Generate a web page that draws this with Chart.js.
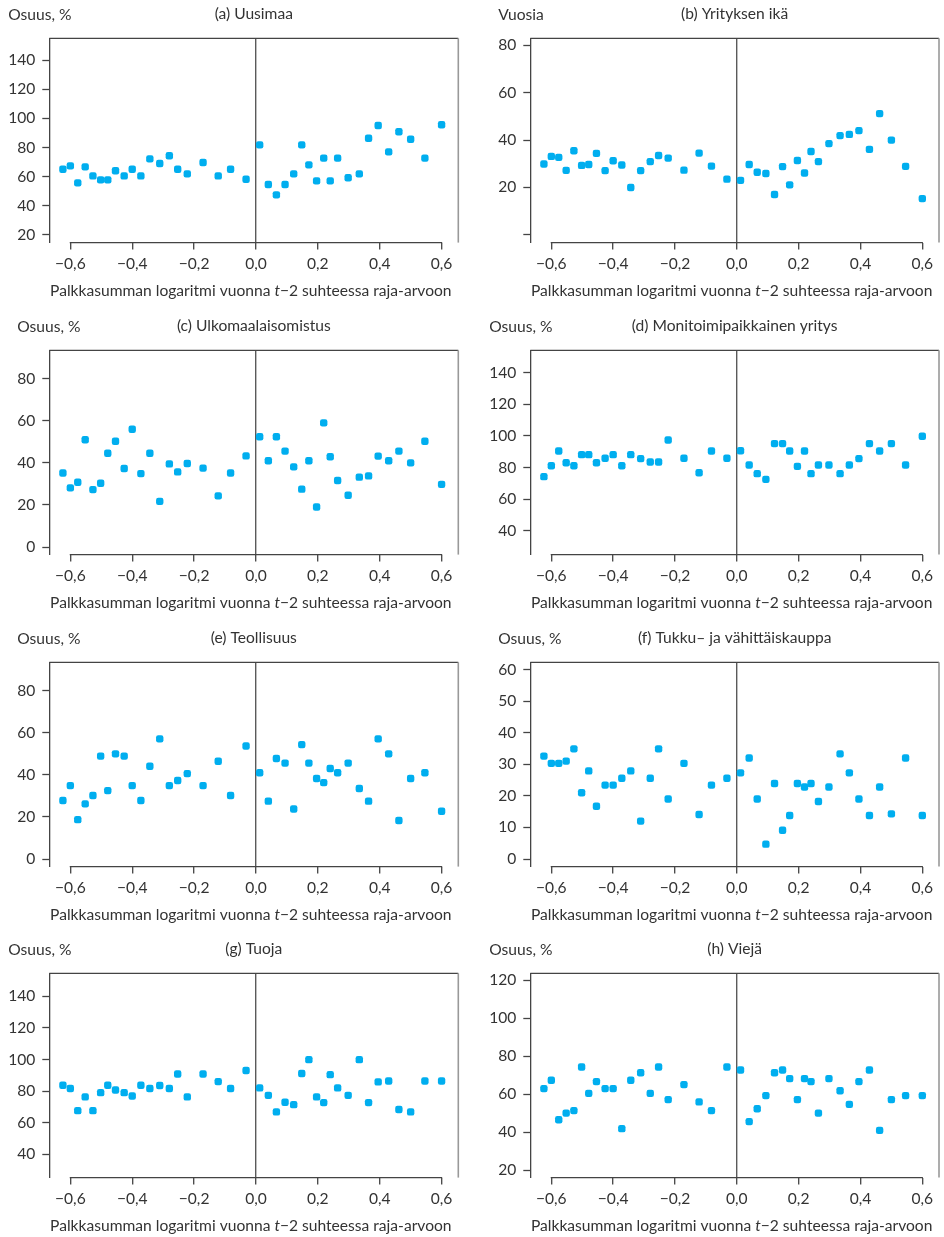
<!DOCTYPE html>
<html>
<head>
<meta charset="utf-8">
<script src="https://cdn.jsdelivr.net/npm/chart.js@4.4.1/dist/chart.umd.min.js"></script>
<style>
  body { margin: 0; background: #fff; }
  #wrap { position: relative; width: 944px; height: 1237px; }
  canvas { position: absolute; }
</style>
</head>
<body>
<div id="wrap"></div>
<script>
// bin midpoints on the running variable (same for every panel)
const xBins = [-0.624, -0.600, -0.576, -0.552, -0.527, -0.502, -0.479, -0.454, -0.426, -0.400,
               -0.372, -0.343, -0.311, -0.280, -0.253, -0.222, -0.171, -0.122, -0.082, -0.032,
                0.012,  0.040,  0.066,  0.094,  0.122,  0.148,  0.171,  0.196,  0.219,  0.240,
                0.264,  0.298,  0.334,  0.364,  0.395,  0.429,  0.462,  0.500,  0.546,  0.600];

const uusimaa = [65.1, 67.4, 55.7, 66.7, 60.5, 57.8, 57.8, 64.0, 60.5, 65.1,
                 60.5, 72.2, 69.0, 74.3, 65.1, 61.9, 69.7, 60.5, 65.1, 58.2,
                 81.8, 54.6, 47.5, 54.6, 61.9, 81.8, 68.1, 57.1, 72.7, 57.1,
                 72.7, 59.2, 61.9, 86.4, 95.1, 77.0, 90.8, 85.7, 72.7, 95.6];
const yrityksenIka = [29.9, 33.1, 32.7, 27.2, 35.5, 29.3, 29.7, 34.4, 27.1, 31.3,
                      29.5, 20.0, 27.1, 30.9, 33.5, 32.4, 27.3, 34.5, 29.0, 23.5,
                      23.0, 29.7, 26.4, 25.9, 17.0, 28.8, 21.1, 31.4, 26.1, 35.2,
                      30.9, 38.5, 41.9, 42.4, 44.0, 36.1, 51.2, 40.0, 28.9, 15.3];
const ulkomaalaisomistus = [35.2, 28.1, 30.8, 51.0, 27.3, 30.3, 44.6, 50.3, 37.3, 56.0,
                            34.9, 44.6, 21.7, 39.5, 35.7, 39.7, 37.5, 24.3, 35.2, 43.3,
                            52.4, 41.0, 52.4, 45.6, 38.1, 27.5, 41.0, 19.0, 59.0, 42.9,
                            31.6, 24.6, 33.2, 33.8, 43.2, 41.0, 45.6, 40.0, 50.3, 29.8];
const monitoimipaikkainen = [74.2, 81.1, 90.4, 83.0, 81.1, 88.1, 88.1, 83.0, 85.8, 88.1,
                             81.1, 88.1, 85.6, 83.5, 83.5, 97.4, 85.8, 76.7, 90.4, 85.8,
                             90.6, 81.6, 76.1, 72.5, 95.1, 95.1, 90.4, 80.7, 90.4, 76.1,
                             81.6, 81.6, 76.1, 81.6, 85.6, 95.1, 90.4, 95.1, 81.6, 99.7];
const teollisuus = [27.8, 34.9, 18.7, 26.2, 30.2, 48.9, 32.5, 50.0, 48.9, 34.9,
                    27.8, 44.1, 57.1, 34.9, 37.3, 40.6, 34.9, 46.5, 30.2, 53.7,
                    41.0, 27.5, 47.8, 45.6, 23.8, 54.4, 45.6, 38.3, 36.3, 43.0,
                    41.0, 45.6, 33.5, 27.5, 57.1, 50.0, 18.3, 38.3, 41.0, 22.7];
const kauppa = [32.6, 30.3, 30.3, 31.0, 34.9, 21.0, 27.9, 16.7, 23.4, 23.4,
                25.6, 27.9, 12.0, 25.6, 34.9, 19.0, 30.3, 14.1, 23.4, 25.6,
                27.3, 32.0, 19.0, 4.7, 23.9, 9.1, 13.8, 23.9, 22.8, 23.9,
                18.2, 22.8, 33.3, 27.3, 19.0, 13.8, 22.8, 14.3, 32.0, 13.8];
const tuoja = [83.7, 81.6, 67.6, 76.3, 67.6, 79.0, 83.7, 80.7, 79.0, 76.9,
               83.7, 81.6, 83.5, 81.6, 90.8, 76.3, 90.8, 86.0, 81.6, 93.0,
               82.0, 77.3, 66.8, 72.9, 71.4, 91.1, 99.9, 76.3, 72.7, 90.4,
               82.0, 77.3, 99.9, 72.7, 85.8, 86.4, 68.3, 66.8, 86.4, 86.4];
const vieja = [62.9, 67.3, 46.5, 50.0, 51.3, 74.3, 60.4, 66.6, 62.9, 62.9,
               41.8, 67.3, 71.3, 60.4, 74.3, 57.1, 65.0, 55.9, 51.3, 74.3,
               72.7, 45.5, 52.3, 59.2, 71.3, 72.7, 68.2, 57.1, 68.2, 66.6,
               50.0, 68.2, 61.8, 54.6, 66.6, 72.7, 40.9, 57.1, 59.2, 59.2];

const xTicks = [-0.6, -0.4, -0.2, 0, 0.2, 0.4, 0.6];
const xTickLabels = ['\u22120,6', '\u22120,4', '\u22120,2', '0,0', '0,2', '0,4', '0,6'];
const ticksA = [20, 40, 60, 80, 100, 120, 140];
const ticksB = [0, 20, 40, 60, 80];
const ticksC = [0, 20, 40, 60, 80];
const ticksD = [40, 60, 80, 100, 120, 140];
const ticksE = [0, 20, 40, 60, 80];
const ticksF = [0, 10, 20, 30, 40, 50, 60];
const ticksG = [40, 60, 80, 100, 120, 140];
const ticksH = [20, 40, 60, 80, 100, 120];

const panels = [
  { title: '(a) Uusimaa', yTitle: 'Osuus, %', values: uusimaa, ticks: ticksA, hide: [], min: 14.7, max: 155 },
  { title: '(b) Yrityksen ikä', yTitle: 'Vuosia', values: yrityksenIka, ticks: ticksB, hide: [0], min: -3.3, max: 83 },
  { title: '(c) Ulkomaalaisomistus', yTitle: 'Osuus, %', values: ulkomaalaisomistus, ticks: ticksC, hide: [], min: -3.6, max: 93.5 },
  { title: '(d) Monitoimipaikkainen yritys', yTitle: 'Osuus, %', values: monitoimipaikkainen, ticks: ticksD, hide: [], min: 25, max: 154 },
  { title: '(e) Teollisuus', yTitle: 'Osuus, %', values: teollisuus, ticks: ticksE, hide: [], min: -3.6, max: 93.5 },
  { title: '(f) Tukku\u2013 ja vähittäiskauppa', yTitle: 'Osuus, %', values: kauppa, ticks: ticksF, hide: [], min: -2.4, max: 62.3 },
  { title: '(g) Tuoja', yTitle: 'Osuus, %', values: tuoja, ticks: ticksG, hide: [], min: 25.2, max: 154.6 },
  { title: '(h) Viejä', yTitle: 'Osuus, %', values: vieja, ticks: ticksH, hide: [], min: 16, max: 123.7 }
];

// layout
const CW = 472, CH = 302;
const rowTops = [0, 312, 624, 935];
const cols = [
  { left: 0, chartLeft: 49.3, chartRight: 458.3 },
  { left: 472, chartLeft: 58.3, chartRight: 467 }
];
const CHART_TOP = 38.3, CHART_BOTTOM = 242.6;
const FONT = 'Lato, "Noto Sans", sans-serif';
const FS = 15.6;
const TXT = '#333';
const DOT = '#00aeef';

const frame = {
  id: 'frame',
  beforeDatasetsDraw(chart) {
    const { ctx, chartArea: a, scales: { x } } = chart;
    ctx.save();
    ctx.strokeStyle = '#444';
    ctx.lineWidth = 1.3;
    ctx.beginPath();
    ctx.moveTo(a.left, a.top);
    ctx.lineTo(a.right, a.top);
    ctx.moveTo(x.getPixelForValue(xTicks[0]) - 0.6, a.bottom);
    ctx.lineTo(x.getPixelForValue(xTicks[xTicks.length - 1]) + 0.6, a.bottom);
    ctx.stroke();
    ctx.strokeStyle = '#999';
    ctx.lineWidth = 1.6;
    ctx.beginPath();
    ctx.moveTo(a.right, a.top);
    ctx.lineTo(a.right, a.bottom);
    ctx.stroke();
    ctx.restore();
  },
  afterDraw(chart, args, opts) {
    const { ctx, chartArea: a, scales: { y } } = chart;
    ctx.save();
    ctx.fillStyle = TXT;
    ctx.textBaseline = 'middle';
    ctx.font = FS + 'px ' + FONT;
    // y title starts where the widest tick label starts
    const w = Math.max(...y.ticks.map(t => ctx.measureText(t.label).width));
    ctx.textAlign = 'left';
    ctx.fillText(opts.yTitle, a.left - 14 - w, 15);
    ctx.textAlign = 'center';
    ctx.fillText(opts.title, (a.left + a.right) / 2, 14);

    // x title with italic t
    const parts = [['Palkkasumman logaritmi vuonna ', ''], ['t', 'italic '], ['\u22122 suhteessa raja-arvoon', '']];
    let total = 0;
    parts.forEach(p => { ctx.font = p[1] + FS + 'px ' + FONT; p.push(ctx.measureText(p[0]).width); total += p[2]; });
    let sx = (a.left + a.right) / 2 - 3 - total / 2;
    ctx.textAlign = 'left';
    parts.forEach(p => { ctx.font = p[1] + FS + 'px ' + FONT; ctx.fillText(p[0], sx, 291); sx += p[2]; });
    ctx.restore();
  }
};

panels.forEach((p, i) => {
  const col = cols[i % 2];
  const canvas = document.createElement('canvas');
  canvas.width = CW;
  canvas.height = CH;
  canvas.style.left = col.left + 'px';
  canvas.style.top = rowTops[Math.floor(i / 2)] + 'px';
  document.getElementById('wrap').appendChild(canvas);

  new Chart(canvas, {
    type: 'scatter',
    data: {
      datasets: [{
        data: xBins.map((x, k) => ({ x: x, y: p.values[k] })),
        pointStyle: 'rectRounded',
        pointRadius: 4.3,
        pointHoverRadius: 4.3,
        backgroundColor: DOT,
        borderWidth: 0
      }]
    },
    options: {
      responsive: false,
      animation: false,
      devicePixelRatio: 1,
      layout: { padding: { left: 0, right: CW - col.chartRight, top: CHART_TOP, bottom: 0 } },
      plugins: {
        legend: { display: false },
        tooltip: { enabled: false },
        frame: { title: p.title, yTitle: p.yTitle }
      },
      scales: {
        x: {
          type: 'linear',
          min: -0.668,
          max: 0.654,
          afterBuildTicks: s => { s.ticks = xTicks.map(v => ({ value: v })); },
          afterFit: s => { s.height = CH - CHART_BOTTOM; },
          ticks: {
            callback: (v, k) => xTickLabels[k],
            font: { family: FONT, size: FS },
            color: TXT,
            padding: 5,
            maxRotation: 0,
            autoSkip: false
          },
          grid: {
            color: c => (c.tick && c.tick.value === 0) ? '#5a5a5a' : 'rgba(0,0,0,0)',
            lineWidth: 1.4,
            tickColor: '#444',
            tickLength: 7,
            tickWidth: 1.3
          },
          border: { display: false }
        },
        y: {
          min: p.min,
          max: p.max,
          afterBuildTicks: s => { s.ticks = p.ticks.map(v => ({ value: v })); },
          afterFit: s => { s.width = col.chartLeft; },
          ticks: {
            callback: v => p.hide.includes(v) ? '' : String(v),
            font: { family: FONT, size: FS },
            color: TXT,
            padding: 7,
            autoSkip: false
          },
          grid: { drawOnChartArea: false, tickLength: 7, tickColor: '#444', tickWidth: 1.3 },
          border: { display: true, color: '#444', width: 1.3 }
        }
      }
    },
    plugins: [frame]
  });
});
</script>
</body>
</html>
